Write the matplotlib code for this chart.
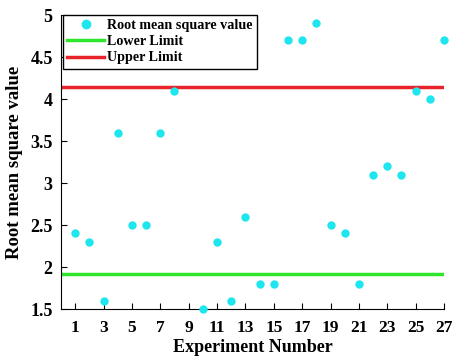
import matplotlib
matplotlib.use("Agg")
import matplotlib.pyplot as plt
from matplotlib.lines import Line2D

plt.rcParams['font.family'] = ['Liberation Serif', 'DejaVu Serif']
plt.rcParams['font.weight'] = 'bold'

# Root mean square value per experiment
experiments = [1, 2, 3, 4, 5, 6, 7, 8, 10, 11, 12, 13, 14, 15, 16, 17, 18,
               19, 20, 21, 22, 23, 24, 25, 26, 27]
rms_values = [2.4, 2.3, 1.6, 3.6, 2.5, 2.5, 3.6, 4.1, 1.5, 2.3, 1.6, 2.6, 1.8,
              1.8, 4.7, 4.7, 4.9, 2.5, 2.4, 1.8, 3.1, 3.2, 3.1, 4.1, 4.0, 4.7]
lower_limit = 1.92
upper_limit = 4.14
x_ticks = list(range(1, 28, 2))
y_ticks = [1.5, 2, 2.5, 3, 3.5, 4, 4.5, 5]
y_tick_labels = ['1.5', '2', '2.5', '3', '3.5', '4', '4.5', '5']

fig = plt.figure(figsize=(4.54, 3.56), dpi=100)
ax = fig.add_axes([61 / 454, 1 - 309 / 356, (444 - 61) / 454, (309 - 15) / 356])

cyan = '#1ee6ef'
green = '#2ee62e'
red = '#e8232a'

ax.scatter(experiments, rms_values, s=36, color=cyan, zorder=3, clip_on=False,
           linewidths=0)
ax.axhline(lower_limit, color=green, lw=2.5, zorder=2)
ax.axhline(upper_limit, color=red, lw=2.5, zorder=2)

ax.set_xlim(0, 27)
ax.set_ylim(1.5, 5)
ax.set_xticks(x_ticks)
ax.set_yticks(y_ticks)
ax.set_yticklabels(y_tick_labels)
ax.tick_params(direction='in', length=4, width=0.8, labelsize=12.5, pad=8)
ax.tick_params(axis='y', pad=6, labelsize=13)
for lbl in ax.get_xticklabels() + ax.get_yticklabels():
    lbl.set_fontweight('bold')

ax.spines['top'].set_visible(False)
ax.spines['right'].set_visible(False)
ax.spines['left'].set_linewidth(0.8)
ax.spines['bottom'].set_linewidth(0.8)

ax.set_xlabel('Experiment Number', fontsize=13, fontweight='bold', labelpad=2)
ax.set_ylabel('Root mean square value', fontsize=13.5, fontweight='bold', labelpad=5)

handles = [
    Line2D([], [], marker='o', ls='none', color=cyan, markersize=6),
    Line2D([], [], color=green, lw=2.5),
    Line2D([], [], color=red, lw=2.5),
]
labels = ['Root mean square value', 'Lower Limit', 'Upper Limit']
leg = ax.legend(handles, labels, loc='upper left', bbox_to_anchor=(0.005, 1.0),
                fancybox=False, framealpha=1, edgecolor='black',
                prop={'weight': 'bold', 'size': 10.2}, handlelength=2.6,
                handletextpad=0.2, borderpad=0.3, labelspacing=0.22,
                borderaxespad=0)
leg.get_frame().set_linewidth(1.0)
leg.set_zorder(5)

fig.savefig('out.png', dpi=100)
